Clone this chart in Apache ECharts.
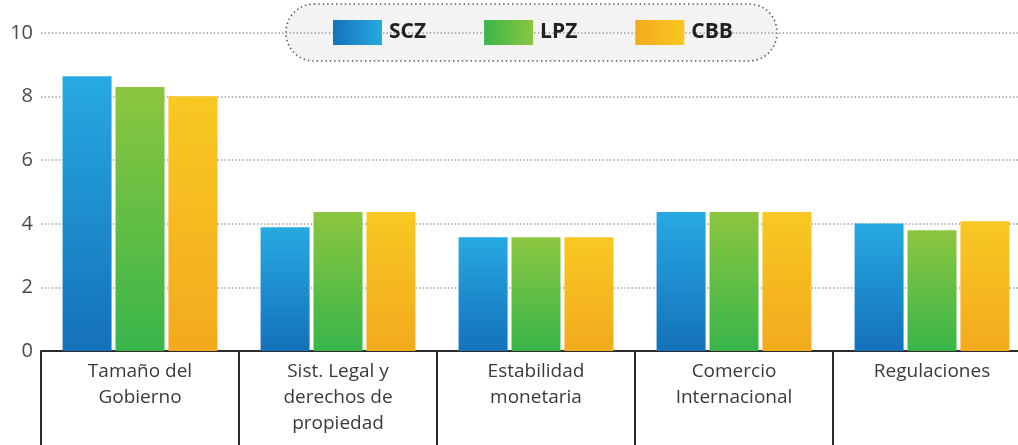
<!DOCTYPE html>
<html>
<head>
<meta charset="utf-8">
<script src="https://cdn.jsdelivr.net/npm/echarts@6/dist/echarts.min.js"></script>
<style>
  html, body { margin: 0; padding: 0; background: #fff; }
  #chart { width: 1018px; height: 445px; }
</style>
</head>
<body>
<div id="chart"></div>
<script>
var categories = ['Tamaño del\nGobierno', 'Sist. Legal y\nderechos de\npropiedad', 'Estabilidad\nmonetaria', 'Comercio\nInternacional', 'Regulaciones']
var sczValues = [8.64, 3.89, 3.58, 4.37, 4.01]
var lpzValues = [8.3, 4.37, 3.58, 4.37, 3.8]
var cbbValues = [8.01, 4.37, 3.58, 4.37, 4.08]
var seriesNames = ['SCZ', 'LPZ', 'CBB']
var yTicks = [0, 2, 4, 6, 8, 10]

// dark / light colour of each series
var colors = [
  ['#1471BA', '#27A9E1'],
  ['#39B54A', '#8CC63F'],
  ['#F3AA1E', '#F8C822']
]

var font = "'Open Sans', 'DejaVu Sans', sans-serif"

function vGrad (c) {
  return new echarts.graphic.LinearGradient(0, 0, 0, 1, [
    {offset: 0, color: c[1]},
    {offset: 1, color: c[0]}
  ])
}

function hGrad (c) {
  return new echarts.graphic.LinearGradient(0, 0, 1, 0, [
    {offset: 0, color: c[0]},
    {offset: 1, color: c[1]}
  ])
}

var chart = echarts.init(document.getElementById('chart'), null, {renderer: 'canvas'})

var values = [sczValues, lpzValues, cbbValues]
var series = seriesNames.map(function (name, i) {
  return {
    name: name,
    type: 'bar',
    data: values[i],
    barWidth: 49,
    barGap: '8%',
    itemStyle: {color: vGrad(colors[i])}
  }
})

var option = {
  animation: false,
  backgroundColor: '#fff',
  graphic: [{
    type: 'rect',
    z: -1,
    shape: {x: 286, y: 4, width: 491, height: 57, r: 28},
    style: {
      fill: '#f3f3f3',
      stroke: '#555',
      lineWidth: 1.6,
      lineDash: [1.4, 3]
    }
  }],
  legend: {
    left: 328,
    top: 15,
    itemWidth: 49,
    itemHeight: 25,
    itemGap: 58,
    icon: 'rect',
    data: seriesNames.map(function (name, i) {
      return {name: name, itemStyle: {color: hGrad(colors[i])}}
    }),
    textStyle: {
      fontFamily: font,
      fontSize: 21,
      fontWeight: 'bold',
      color: '#231f20',
      padding: [0, 0, 0, 2]
    }
  },
  grid: {
    left: 41,
    width: 990,
    top: 33,
    bottom: 94,
    containLabel: false,
    outerBoundsMode: 'none'
  },
  xAxis: {
    type: 'category',
    data: categories,
    boundaryGap: true,
    axisLine: {
      lineStyle: {color: '#2b2b2b', width: 2}
    },
    axisTick: {
      show: true,
      length: 100,
      lineStyle: {color: '#2b2b2b', width: 2}
    },
    axisLabel: {
      margin: 8,
      fontFamily: font,
      fontSize: 19,
      lineHeight: 26,
      color: '#3a3a3a'
    }
  },
  yAxis: {
    type: 'value',
    min: 0,
    max: 10,
    interval: 2,
    axisLine: {show: false},
    axisTick: {show: false},
    axisLabel: {
      margin: 8,
      fontFamily: font,
      fontSize: 20,
      color: '#4a4a4a',
      formatter: function (val) {
        return yTicks.indexOf(val) >= 0 ? String(val) : ''
      }
    },
    splitLine: {
      show: true,
      lineStyle: {
        color: '#9a9a9a',
        width: 1.5,
        type: [1.4, 2.2]
      }
    }
  },
  series: series
}

chart.setOption(option, true)
</script>
</body>
</html>
